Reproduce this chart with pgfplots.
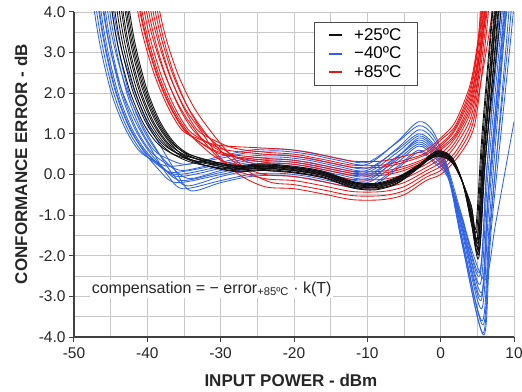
\documentclass[border=0pt]{standalone}
\usepackage{pgfplots}
\pgfplotsset{compat=1.18}
\usepackage{fontspec}
\setmainfont{Liberation Sans}
\definecolor{cblk}{RGB}{15,15,15}
\definecolor{cblu}{RGB}{45,98,232}
\definecolor{cred}{RGB}{238,18,18}
\definecolor{gridc}{RGB}{200,200,200}
\begin{document}
\begin{tikzpicture}
\begin{axis}[
  name=ax,
  scale only axis, width=440pt, height=325pt,
  xmin=-50, xmax=10, ymin=-4, ymax=4,
  axis lines=left,
  axis line style={-, line width=1.2pt, color=black!75},
  xtick={-50,-40,...,10}, ytick={-4,-3,...,4},
  minor x tick num=1, minor y tick num=1,
  grid=both,
  major grid style={gridc, line width=0.8pt},
  minor grid style={gridc, line width=0.8pt},
  tick align=outside, major tick length=5pt, minor tick length=0pt,
  tick style={line width=1pt, color=black!75},
  /pgf/number format/assume math mode=true,
  ticklabel style={font=\fontsize{15.5}{18}\selectfont, color=black!85},
  yticklabel style={/pgf/number format/.cd, fixed, fixed zerofill, precision=1},
  xticklabel style={yshift=-2pt},
  xlabel={INPUT POWER - dBm},
  ylabel={CONFORMANCE ERROR - dB},
  label style={font=\bfseries\fontsize{17}{20}\selectfont, color=black!85},
  xlabel style={at={(axis description cs:0.493,-0.135)}, anchor=center},
  ylabel style={at={(axis description cs:-0.1205,0.532)}, anchor=center},
  legend style={at={(axis description cs:0.545,0.969)}, anchor=north west,
    draw=black!70, line width=0.6pt, fill=white, inner xsep=14pt, inner ysep=4pt,
    font=\fontsize{17}{20}\selectfont, row sep=1.3pt,
    /tikz/every odd column/.append style={column sep=9pt}},
  legend cell align=left,
  legend image code/.code={\draw[#1, line width=2pt] (0pt,0pt) -- (13pt,0pt);},
]
\addlegendimage{cblk}\addlegendentry{+25ºC}
\addlegendimage{cblu}\addlegendentry{−40ºC}
\addlegendimage{cred}\addlegendentry{+85ºC}

% ---------------- -40 C (blue) ----------------
\addplot[cblu, line width=0.85pt, smooth, forget plot] coordinates {(-49.7,8) (-47.2,4) (-45.2,2.2) (-43.2,1.2) (-41.2,0.6) (-39.2,0.35) (-36.7,0.2) (-30,0.4) (-26,0.55) (-22,0.58) (-18,0.5) (-14,0.35) (-10,0.25) (-6,0.8) (-3,1.3) (-1,1.05) (1,0.15) (3,-1.08) (5.3,-2.4) (6.3,0.2) (8.2,4) (8.8,6)};
\addplot[cblu, line width=0.85pt, smooth, forget plot] coordinates {(-49.4,8) (-46.9,4) (-44.9,2.2) (-42.9,1.2) (-40.9,0.6) (-38.9,0.28) (-36.4,0.05) (-30,0.25) (-26,0.4) (-22,0.43) (-18,0.35) (-14,0.2) (-10,0.1) (-6,0.63) (-3,1.1) (-1,0.85) (1,0.09) (3,-1.35) (5.5,-3.0) (6.5,-0.4) (8.6,4) (9.2,6)};
\addplot[cblu, line width=0.85pt, smooth, forget plot] coordinates {(-49.1,8) (-46.6,4) (-44.6,2.2) (-42.6,1.2) (-40.6,0.6) (-38.6,0.15) (-36.1,-0.2) (-30,0) (-26,0.15) (-22,0.18) (-18,0.1) (-14,-0.05) (-10,-0.15) (-6,0.4) (-3,0.9) (-1,0.65) (1,0.03) (3,-1.62) (5.7,-3.6) (6.7,-1.0) (8.9,4) (9.5,6)};
\addplot[cblu, line width=0.85pt, smooth, forget plot] coordinates {(-48.8,8) (-46.3,4) (-44.3,2.2) (-42.3,1.2) (-40.3,0.6) (-38.3,0.23) (-35.8,-0.05) (-30,0.15) (-26,0.3) (-22,0.33) (-18,0.25) (-14,0.1) (-10,0.0) (-6,0.43) (-3,0.8) (-1,0.55) (1,0) (3,-1.22) (5.4,-2.7) (6.4,-0.1) (8.4,4) (9,6)};
\addplot[cblu, line width=0.85pt, smooth, forget plot] coordinates {(-48.5,8) (-46,4) (-43.9,2.3) (-41.6,1.3) (-39.4,0.6) (-37.3,0.0) (-35.2,-0.35) (-30,-0.15) (-26,0) (-22,0.03) (-18,-0.05) (-14,-0.2) (-10,-0.3) (-6,0.18) (-3,0.6) (-1,0.35) (1,-0.06) (3,-1.76) (5.8,-3.9) (6.8,-1.3) (9.3,4) (9.9,6)};
\addplot[cblu, line width=0.85pt, smooth, forget plot] coordinates {(-48.2,8) (-45.7,4) (-43.7,2.2) (-41.7,1.2) (-39.7,0.6) (-37.7,0.3) (-35.2,0.1) (-30,0.3) (-26,0.45) (-22,0.48) (-18,0.4) (-14,0.25) (-10,0.15) (-6,0.6) (-3,1.0) (-1,0.75) (1,0.06) (3,-1.49) (5.6,-3.3) (6.6,-0.7) (8.8,4) (9.4,6)};
\addplot[cblu, line width=0.85pt, smooth, forget plot] coordinates {(-47.9,8) (-45.4,4) (-43.2,2.3) (-40.9,1.3) (-38.7,0.6) (-36.7,0.05) (-34.6,-0.28) (-30,-0.05) (-26,0.1) (-22,0.13) (-18,0.05) (-14,-0.1) (-10,-0.2) (-6,0.28) (-3,0.7) (-1,0.45) (1,-0.03) (3,-1.13) (5.3,-2.5) (6.3,0.1) (8,4) (8.6,6)};
\addplot[cblu, line width=0.85pt, smooth, forget plot] coordinates {(-47.6,8) (-45.1,4) (-43.1,2.2) (-41.1,1.2) (-39.1,0.6) (-37.1,0.38) (-34.6,0.25) (-30,0.45) (-26,0.6) (-22,0.63) (-18,0.55) (-14,0.4) (-10,0.3) (-6,0.78) (-3,1.2) (-1,0.95) (1,0.12) (3,-1.67) (5.8,-3.7) (6.8,-1.1) (9.6,4) (10.2,6)};
\addplot[cblu, line width=0.85pt, smooth, forget plot] coordinates {(-47.3,8) (-44.8,4) (-42.8,2.2) (-40.8,1.2) (-38.8,0.6) (-36.8,0.2) (-34.3,-0.1) (-30,0.1) (-26,0.25) (-22,0.28) (-18,0.2) (-14,0.05) (-10,-0.05) (-6,0.43) (-3,0.85) (-1,0.6) (1,0.02) (3,-1.4) (5.5,-3.1) (6.5,-0.5) (8.7,4) (9.3,6)};
\addplot[cblu, line width=0.85pt, smooth, forget plot] coordinates {(-47.1,8) (-44.6,4) (-42.4,2.4) (-40.2,1.35) (-38.2,0.7) (-36.2,0.1) (-34.1,-0.4) (-30,-0.2) (-26,-0.05) (-22,-0.02) (-18,-0.1) (-14,-0.25) (-10,-0.35) (-6,0.13) (-3,0.55) (-1,0.3) (1,-0.08) (3,-1.3) (5.6,-2.9) (6.6,-0.3) (9,4) (9.6,6)};
\addplot[cblu, line width=0.85pt, smooth, forget plot] coordinates {(-49,8) (-46.5,4) (-44.5,2.2) (-42.5,1.2) (-40.5,0.6) (-38.5,0.25) (-36,0) (-30,0.2) (-26,0.35) (-22,0.38) (-18,0.3) (-14,0.15) (-10,0.05) (-6,0.53) (-3,0.95) (-1,0.7) (1,0.05) (3,-1.78) (5.9,-3.95) (6.9,-1.35) (9.9,4) (10.5,6)};
\addplot[cblu, line width=0.85pt, smooth, forget plot] coordinates {(-48.4,8) (-45.9,4) (-43.9,2.2) (-41.9,1.2) (-39.9,0.6) (-37.9,0.18) (-35.4,-0.15) (-30,0.05) (-26,0.2) (-22,0.23) (-18,0.15) (-14,0) (-10,-0.1) (-6,0.35) (-3,0.75) (-1,0.5) (1,-0.02) (3,-1.17) (6.0,-2.6) (7.5,-1.2) (10,1.3)};

% ---------------- +85 C (red) ----------------
\addplot[cred, line width=0.85pt, smooth, forget plot] coordinates {(-43.8,7) (-41.3,4) (-39.3,2.6) (-37.3,1.7) (-35.3,1.1) (-33.3,0.9) (-30.3,0.72) (-24,0.65) (-20,0.6) (-16,0.47) (-12,0.33) (-8,0.33) (-5,0.45) (-2,0.61) (0,0.9) (2,1.3) (4,2.2) (5,3.2) (5.4,4) (5.9,6)};
\addplot[cred, line width=0.85pt, smooth, forget plot] coordinates {(-43.5,7) (-41,4) (-39,2.6) (-37,1.7) (-35,1.1) (-33,0.82) (-30,0.54) (-24,0.4) (-20,0.35) (-16,0.22) (-12,0.08) (-8,0.08) (-5,0.2) (-2,0.41) (0,0.7) (2,1.1) (4,1.9) (5,2.8) (5.7,4) (6.2,6)};
\addplot[cred, line width=0.85pt, smooth, forget plot] coordinates {(-43.2,7) (-40.7,4) (-38.7,2.6) (-36.7,1.7) (-34.7,1.1) (-32.7,0.72) (-29.7,0.33) (-24,0.1) (-20,0.05) (-16,-0.08) (-12,-0.22) (-8,-0.22) (-5,-0.1) (-2,0.17) (0,0.4) (2,0.8) (4,1.5) (5,2.3) (6,4) (6.5,6)};
\addplot[cred, line width=0.85pt, smooth, forget plot] coordinates {(-42.9,7) (-40.4,4) (-38.4,2.6) (-36.4,1.7) (-34.4,1.1) (-32.4,0.85) (-29.4,0.61) (-24,0.5) (-20,0.45) (-16,0.32) (-12,0.18) (-8,0.18) (-5,0.3) (-2,0.49) (0,0.75) (2,1.15) (4,2.0) (5,3.0) (5.6,4) (6.1,6)};
\addplot[cred, line width=0.85pt, smooth, forget plot] coordinates {(-42.6,7) (-40.1,4) (-37.9,2.6) (-35.7,1.7) (-33.5,1.1) (-31.3,0.6) (-28.6,0.15) (-24,-0.1) (-20,-0.15) (-16,-0.28) (-12,-0.42) (-8,-0.42) (-5,-0.3) (-2,0.01) (0,0.2) (2,0.55) (4,1.2) (5,2.0) (6.3,4) (6.8,6)};
\addplot[cred, line width=0.85pt, smooth, forget plot] coordinates {(-42.3,7) (-39.8,4) (-37.8,2.6) (-35.8,1.7) (-33.8,1.1) (-31.8,0.78) (-28.8,0.47) (-24,0.3) (-20,0.25) (-16,0.12) (-12,-0.02) (-8,-0.02) (-5,0.1) (-2,0.33) (0,0.6) (2,0.95) (4,1.7) (5,2.6) (5.9,4) (6.4,6)};
\addplot[cred, line width=0.85pt, smooth, forget plot] coordinates {(-42,7) (-39.5,4) (-37.3,2.6) (-35.1,1.7) (-32.8,1.1) (-30.5,0.5) (-27.5,0.0) (-24,-0.3) (-20,-0.35) (-16,-0.48) (-12,-0.62) (-8,-0.62) (-5,-0.5) (-2,-0.15) (0,0) (2,0.35) (4,0.9) (5,1.6) (6.5,4) (7,6)};
\addplot[cred, line width=0.85pt, smooth, forget plot] coordinates {(-41.7,7) (-39.2,4) (-37.2,2.6) (-35.2,1.7) (-33.2,1.1) (-31.2,0.87) (-28.2,0.65) (-24,0.55) (-20,0.5) (-16,0.37) (-12,0.23) (-8,0.23) (-5,0.35) (-2,0.53) (0,0.85) (2,1.2) (4,2.1) (5,3.1) (5.5,4) (6,6)};
\addplot[cred, line width=0.85pt, smooth, forget plot] coordinates {(-41.4,7) (-38.9,4) (-36.8,2.6) (-34.6,1.7) (-32.4,1.1) (-30.2,0.62) (-27.4,0.22) (-24,0) (-20,-0.05) (-16,-0.18) (-12,-0.32) (-8,-0.32) (-5,-0.2) (-2,0.09) (0,0.3) (2,0.7) (4,1.35) (5,2.2) (6.1,4) (6.6,6)};
\addplot[cred, line width=0.85pt, smooth, forget plot] coordinates {(-41.1,7) (-38.6,4) (-36.6,2.6) (-34.6,1.7) (-32.6,1.1) (-30.6,0.75) (-27.6,0.4) (-24,0.2) (-20,0.15) (-16,0.02) (-12,-0.12) (-8,-0.12) (-5,0) (-2,0.25) (0,0.5) (2,0.9) (4,1.6) (5,2.5) (5.8,4) (6.3,6)};
\addplot[cred, line width=0.85pt, smooth, forget plot] coordinates {(-40.8,7) (-38.3,4) (-36.1,2.6) (-33.8,1.7) (-31.5,1.1) (-29,0.55) (-26,0.05) (-23,-0.2) (-20,-0.25) (-16,-0.38) (-12,-0.52) (-8,-0.52) (-5,-0.4) (-2,-0.07) (0,0.1) (2,0.45) (4,1.05) (5,1.8) (7,4) (7.5,6)};
\addplot[cred, line width=0.85pt, smooth, forget plot] coordinates {(-43.4,7) (-40.9,4) (-38.9,2.6) (-36.9,1.7) (-34.9,1.1) (-32.9,0.8) (-29.9,0.5) (-24,0.35) (-20,0.3) (-16,0.17) (-12,0.03) (-8,0.03) (-5,0.15) (-2,0.37) (0,0.65) (2,1.0) (4,1.8) (5,2.7) (6.2,4) (6.7,6)};

% ---------------- +25 C (black) ----------------
\addplot[cblk, line width=0.85pt, smooth, forget plot] coordinates {(-47.3,8.2) (-44.8,4) (-42.8,2.3) (-40.8,1.35) (-38.8,0.8) (-36.8,0.53) (-33.8,0.35) (-28,0.2) (-24,0.23) (-20,0.17) (-16,0.05) (-12,-0.2) (-9,-0.25) (-6,-0.1) (-3,0.23) (-0.5,0.55) (1.5,0.4) (3,-0.2) (4.2,-1.14) (5.1,-1.9) (5.9,0.3) (7.6,4) (8.3,6)};
\addplot[cblk, line width=0.85pt, smooth, forget plot] coordinates {(-46.9,8.2) (-44.4,4) (-42.4,2.3) (-40.4,1.35) (-38.4,0.8) (-36.4,0.49) (-33.4,0.27) (-28,0.12) (-24,0.15) (-20,0.09) (-16,-0.03) (-12,-0.28) (-9,-0.33) (-6,-0.18) (-3,0.19) (-0.5,0.5) (1.5,0.35) (3,-0.2) (4.2,-0.96) (5.0,-1.6) (5.8,0.6) (7.3,4) (8.0,6)};
\addplot[cblk, line width=0.85pt, smooth, forget plot] coordinates {(-46.6,8.2) (-44.1,4) (-42.1,2.3) (-40.1,1.35) (-38.1,0.8) (-36.1,0.54) (-33.1,0.38) (-28,0.23) (-24,0.26) (-20,0.2) (-16,0.08) (-12,-0.17) (-9,-0.22) (-6,-0.07) (-3,0.24) (-0.5,0.58) (1.5,0.43) (3,-0.2) (4.2,-1.23) (5.2,-2.05) (6.0,0.15) (7.9,4) (8.6,6)};
\addplot[cblk, line width=0.85pt, smooth, forget plot] coordinates {(-46.3,8.2) (-43.8,4) (-41.8,2.3) (-39.8,1.35) (-37.8,0.8) (-35.8,0.5) (-32.8,0.3) (-28,0.15) (-24,0.18) (-20,0.12) (-16,0) (-12,-0.25) (-9,-0.3) (-6,-0.15) (-3,0.2) (-0.5,0.48) (1.5,0.33) (3,-0.2) (4.2,-0.84) (4.9,-1.4) (5.7,0.8) (7.1,4) (7.8,6)};
\addplot[cblk, line width=0.85pt, smooth, forget plot] coordinates {(-46,8.2) (-43.5,4) (-41.5,2.3) (-39.5,1.35) (-37.5,0.8) (-35.5,0.47) (-32.5,0.24) (-28,0.09) (-24,0.12) (-20,0.06) (-16,-0.06) (-12,-0.31) (-9,-0.36) (-6,-0.21) (-3,0.17) (-0.5,0.53) (1.5,0.38) (3,-0.2) (4.2,-1.05) (5.1,-1.75) (5.9,0.45) (7.5,4) (8.2,6)};
\addplot[cblk, line width=0.85pt, smooth, forget plot] coordinates {(-45.8,8.2) (-43.3,4) (-41.3,2.3) (-39.3,1.35) (-37.3,0.8) (-35.3,0.52) (-32.3,0.33) (-28,0.18) (-24,0.21) (-20,0.15) (-16,0.03) (-12,-0.22) (-9,-0.27) (-6,-0.12) (-3,0.22) (-0.5,0.45) (1.5,0.3) (3,-0.2) (4.2,-0.78) (4.8,-1.3) (5.6,0.9) (7.0,4) (7.7,6)};
\addplot[cblk, line width=0.85pt, smooth, forget plot] coordinates {(-45.5,8.2) (-43,4) (-41,2.3) (-39,1.35) (-37,0.8) (-35,0.46) (-32,0.22) (-28,0.07) (-24,0.1) (-20,0.04) (-16,-0.08) (-12,-0.33) (-9,-0.38) (-6,-0.23) (-3,0.16) (-0.5,0.52) (1.5,0.37) (3,-0.2) (4.2,-1.11) (5.3,-1.85) (6.1,0.35) (7.8,4) (8.5,6)};
\addplot[cblk, line width=0.85pt, smooth, forget plot] coordinates {(-45.3,8.2) (-42.8,4) (-40.8,2.3) (-38.8,1.35) (-36.8,0.8) (-34.8,0.53) (-31.8,0.36) (-28,0.21) (-24,0.24) (-20,0.18) (-16,0.06) (-12,-0.19) (-9,-0.24) (-6,-0.09) (-3,0.23) (-0.5,0.56) (1.5,0.41) (3,-0.2) (4.2,-0.93) (5.0,-1.55) (5.8,0.65) (7.4,4) (8.1,6)};
\addplot[cblk, line width=0.85pt, smooth, forget plot] coordinates {(-45.1,8.2) (-42.6,4) (-40.6,2.3) (-38.6,1.35) (-36.6,0.8) (-34.6,0.49) (-31.6,0.28) (-28,0.13) (-24,0.16) (-20,0.1) (-16,-0.02) (-12,-0.27) (-9,-0.32) (-6,-0.17) (-3,0.19) (-0.5,0.46) (1.5,0.31) (3,-0.2) (4.2,-1.17) (5.2,-1.95) (6.0,0.25) (8.2,4) (8.9,6)};
\addplot[cblk, line width=0.85pt, smooth, forget plot] coordinates {(-44.9,8.2) (-42.4,4) (-40.4,2.3) (-38.4,1.35) (-36.4,0.8) (-34.4,0.51) (-31.4,0.32) (-28,0.17) (-24,0.2) (-20,0.14) (-16,0.02) (-12,-0.23) (-9,-0.28) (-6,-0.13) (-3,0.21) (-0.5,0.5) (1.5,0.35) (3,-0.2) (4.2,-0.99) (5.1,-1.65) (5.9,0.55) (7.6,4) (8.3,6)};

\node[fill=white, anchor=west, inner sep=1.5pt, text=black!85, font=\fontsize{16}{19}\selectfont]
  at (axis cs:-47.8,-2.82) {compensation = − error\textsubscript{+85ºC} · k(T)};
\end{axis}
\pgfresetboundingbox
\path ([shift={(-74pt,-54pt)}]ax.south west) rectangle ([shift={(8pt,12pt)}]ax.north east);
\end{tikzpicture}
\end{document}
